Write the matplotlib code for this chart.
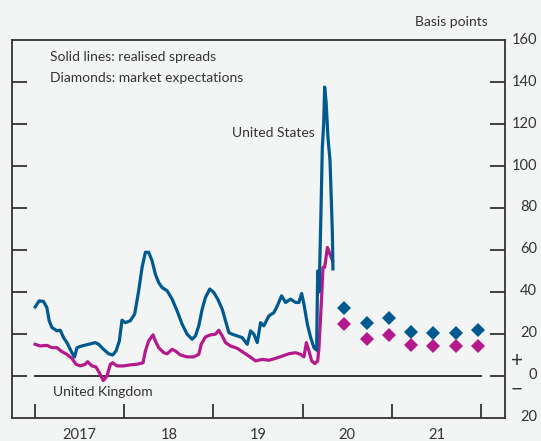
import numpy as np
import matplotlib
matplotlib.use("Agg")
import matplotlib.pyplot as plt

plt.rcParams['font.family'] = ['Lato', 'DejaVu Sans']

# Realised spreads (decimal years, basis points)
us_t = [2017.000, 2017.045, 2017.093, 2017.131, 2017.157, 2017.188, 2017.244, 2017.281,
        2017.318, 2017.356, 2017.412, 2017.442, 2017.469, 2017.525, 2017.599, 2017.674,
        2017.711, 2017.767, 2017.824, 2017.869, 2017.907, 2017.944, 2017.974, 2018.011,
        2018.067, 2018.116, 2018.161, 2018.199, 2018.236, 2018.273, 2018.311, 2018.348,
        2018.385, 2018.424, 2018.480, 2018.536, 2018.592, 2018.648, 2018.704, 2018.761,
        2018.798, 2018.835, 2018.873, 2018.910, 2018.958, 2019.003, 2019.048, 2019.098,
        2019.135, 2019.172, 2019.210, 2019.266, 2019.322, 2019.379, 2019.416, 2019.453,
        2019.491, 2019.528, 2019.565, 2019.621, 2019.678, 2019.716, 2019.764, 2019.809,
        2019.865, 2019.921, 2019.958, 2019.989, 2020.015, 2020.053, 2020.090, 2020.127,
        2020.157, 2020.169, 2020.185, 2020.202, 2020.221, 2020.236, 2020.247, 2020.264,
        2020.284, 2020.307, 2020.322, 2020.334, 2020.340]
us_v = [32.9, 35.8, 35.5, 32.6, 26.3, 23.1, 21.5, 21.8,
        18.3, 15.9, 11.1, 9.1, 13.5, 14.3, 15.1, 15.9,
        15.1, 12.7, 10.6, 10.0, 11.9, 16.7, 26.6, 25.4,
        26.3, 29.5, 40.6, 51.7, 58.9, 58.9, 54.9, 48.5,
        44.5, 42.1, 40.6, 36.6, 31.0, 24.7, 19.9, 17.5,
        19.1, 23.9, 31.8, 37.4, 41.4, 39.8, 36.6, 31.8,
        26.3, 20.7, 19.9, 19.1, 18.3, 15.1, 21.5, 19.9,
        15.9, 25.4, 23.9, 28.6, 30.2, 33.4, 38.2, 35.0,
        36.6, 35.0, 35.0, 39.3, 34.2, 24.7, 18.3, 13.5,
        12.3, 50.0, 40.0, 70.8, 109.0, 120.0, 137.6, 130.0,
        113.7, 102.6, 83.5, 67.6, 51.0]

uk_t = [2017.000, 2017.056, 2017.131, 2017.188, 2017.244, 2017.300, 2017.356, 2017.412,
        2017.457, 2017.506, 2017.562, 2017.588, 2017.637, 2017.682, 2017.719, 2017.764,
        2017.806, 2017.843, 2017.869, 2017.918, 2017.992, 2018.067, 2018.143, 2018.210,
        2018.236, 2018.273, 2018.322, 2018.348, 2018.385, 2018.442, 2018.480, 2018.536,
        2018.573, 2018.629, 2018.704, 2018.779, 2018.835, 2018.862, 2018.910, 2018.966,
        2019.022, 2019.060, 2019.098, 2019.135, 2019.191, 2019.266, 2019.322, 2019.397,
        2019.472, 2019.547, 2019.621, 2019.697, 2019.772, 2019.846, 2019.921, 2019.978,
        2020.015, 2020.042, 2020.071, 2020.101, 2020.138, 2020.169, 2020.183, 2020.213,
        2020.228, 2020.247, 2020.278, 2020.307, 2020.334]
uk_v = [15.1, 14.3, 14.6, 13.5, 13.5, 11.6, 10.3, 8.4,
        5.6, 4.8, 5.6, 6.8, 4.8, 4.3, 1.6, -2.2,
        0.0, 5.6, 6.3, 4.8, 4.8, 5.3, 5.6, 6.3,
        11.9, 16.7, 19.6, 16.7, 13.5, 11.1, 10.6, 12.7,
        11.9, 10.0, 9.1, 9.1, 10.3, 15.1, 18.6, 19.6,
        19.9, 21.8, 19.1, 15.9, 14.3, 13.2, 11.6, 9.5,
        7.2, 7.9, 7.5, 8.4, 9.5, 10.6, 11.1, 10.3,
        9.1, 15.9, 11.9, 7.2, 5.9, 7.2, 13.5, 37.4,
        51.7, 51.7, 61.2, 58.0, 55.0]

# Market expectations (diamonds)
exp_t = [2020.46, 2020.72, 2020.97, 2021.21, 2021.46, 2021.72, 2021.97]
exp_us = [32.3, 25.4, 27.8, 21.1, 20.4, 20.7, 21.8]
exp_uk = [24.7, 17.8, 19.6, 14.8, 14.3, 14.3, 14.3]

year_ticks = [2017, 2018, 2019, 2020, 2021, 2022]
year_labels = ["2017", "18", "19", "20", "21"]

blue = "#005a8f"
pink = "#b41a8c"
grey = "#333333"
bg = "#f3f4f4"

fig = plt.figure(figsize=(5.41, 4.41), dpi=100)
fig.patch.set_facecolor(bg)
ax = fig.add_axes([12 / 541, 1 - 418 / 441, (505 - 12) / 541, (418 - 40) / 441])
ax.set_facecolor(bg)

ax.plot(uk_t, uk_v, color=pink, lw=2.3, solid_joinstyle='round', zorder=3)
ax.plot(us_t, us_v, color=blue, lw=2.3, solid_joinstyle='round', zorder=4)
ax.plot(exp_t, exp_us, 'D', color=blue, ms=7, mew=0, zorder=5)
ax.plot(exp_t, exp_uk, 'D', color=pink, ms=7, mew=0, zorder=5)

ax.plot([2017, 2022], [0, 0], color=grey, lw=1.4, zorder=2)

ax.set_xlim(2016.74, 2022.27)
ax.set_ylim(-20, 160)

for s in ax.spines.values():
    s.set_color(grey)
    s.set_linewidth(1.3)

# x axis
ax.set_xticks(year_ticks)
ax.set_xticklabels([])
ax.set_xticks([y + 0.5 for y in year_ticks[:-1]], minor=True)
ax.set_xticklabels(year_labels, minor=True)
ax.tick_params(axis='x', which='major', direction='in', length=10, width=1.3, color=grey)
ax.tick_params(axis='x', which='minor', length=0, pad=7, labelsize=10.5, labelcolor=grey)

# y axis
ax.set_yticks(np.arange(0, 141, 20))
ax.tick_params(axis='y', which='major', direction='in', length=11, width=1.3, color=grey,
               left=True, right=True, labelleft=False, labelright=False)
for v in range(-20, 161, 20):
    ax.text(537 / 541, 1 - (375 - v * 41.9 / 20) / 441, str(abs(v)),
            transform=fig.transFigure, ha='right', va='center', fontsize=10.5, color=grey)
ax.text(517 / 541, 1 - 361 / 441, "+", transform=fig.transFigure, ha='center',
        va='center', fontsize=15, color=grey)
ax.text(517 / 541, 1 - 390 / 441, "\u2212", transform=fig.transFigure, ha='center',
        va='center', fontsize=15, color=grey)

fig.text(488 / 541, 1 - 22 / 441, "Basis points", ha='right', va='center', fontsize=10, color=grey)
ax.text(50 / 541, 1 - 57 / 441, "Solid lines: realised spreads", transform=fig.transFigure,
        ha='left', va='center', fontsize=10, color=grey)
ax.text(50 / 541, 1 - 78 / 441, "Diamonds: market expectations", transform=fig.transFigure,
        ha='left', va='center', fontsize=10, color=grey)
ax.text(232 / 541, 1 - 133 / 441, "United States", transform=fig.transFigure,
        ha='left', va='center', fontsize=10, color=grey)
ax.text(53 / 541, 1 - 392 / 441, "United Kingdom", transform=fig.transFigure,
        ha='left', va='center', fontsize=10, color=grey)

fig.savefig("out.png", dpi=100, facecolor=bg)
